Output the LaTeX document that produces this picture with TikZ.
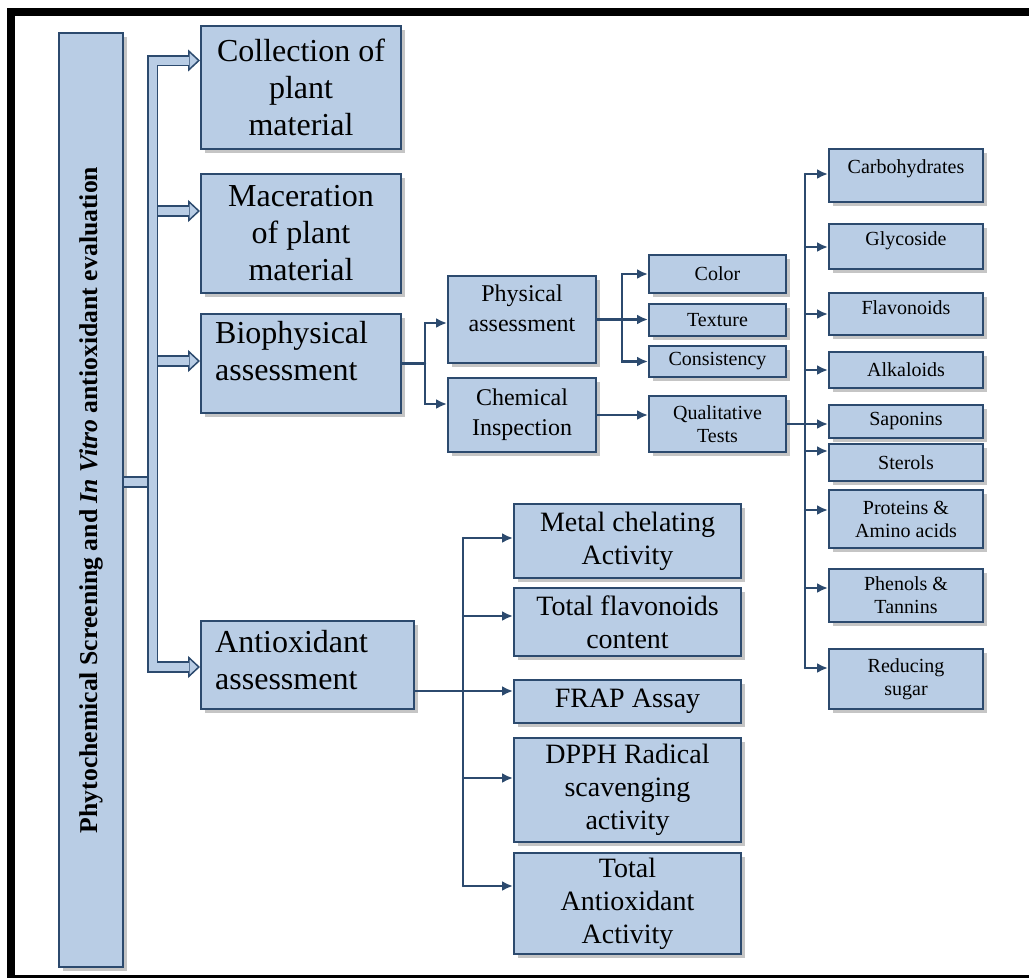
\documentclass[tikz,border=0pt]{standalone}
\usepackage{fontspec}
\setmainfont{Liberation Serif}
\definecolor{ScreenFill}{HTML}{B9CDE5}
\definecolor{ScreenEdge}{HTML}{2C4A6E}
\usetikzlibrary{arrows.meta,positioning,shadows}

\begin{document}
\begin{tikzpicture}[
    x=1pt, y=-1pt,
    bigfont/.style={font=\fontsize{32}{37}\selectfont},
    midfont/.style={font=\fontsize{24}{30}\selectfont},
    smallfont/.style={font=\fontsize{20}{23}\selectfont},
    assayfont/.style={font=\fontsize{28}{33}\selectfont},
    box/.style={
      draw=ScreenEdge,
      line width=2pt,
      fill=ScreenFill,
      align=center,
      inner sep=2pt,
      anchor=north west,
      drop shadow={shadow xshift=4pt, shadow yshift=-4pt, fill=black!45}
    },
    big/.style={box, bigfont, minimum width=200pt},
    mid/.style={box, midfont, minimum width=148pt},
    small/.style={box, smallfont, minimum width=137pt},
    test/.style={box, smallfont, minimum width=154pt},
    assay/.style={box, assayfont, minimum width=227pt},
    tag/.style={inner sep=0pt, align=left},
    link/.style={draw=ScreenEdge, line width=2.4pt, line cap=round},
    arr/.style={link, -{Latex[length=11pt,width=10pt]}},
    dbl/.style={draw=ScreenEdge, line width=1.8pt, double=ScreenFill, double distance=8pt},
    head/.style={draw=ScreenEdge, line width=1.5pt, -{Triangle[length=12pt,width=22pt,fill=ScreenFill]}}
  ]
  \useasboundingbox (0,0) rectangle (1029,978);
  \fill[white] (0,0) rectangle (1029,978);

  % title column
  \node[box, anchor=center, minimum width=64pt, minimum height=934pt,
    font=\bfseries\fontsize{25.7}{30}\selectfont] (title) at (91,500)
    {\rotatebox{90}{Phytochemical Screening and \textit{In Vitro} antioxidant evaluation}};

  % first level
  \node[big, minimum height=123pt] (coll) at (200,25) {Collection of\\plant\\material};
  \node[big, minimum height=119pt] (mac) at (200,173) {Maceration\\of plant\\material};
  \node[big, minimum height=99pt] (bio) at (200,313) {};
  \node[tag, bigfont, below right=8pt and 15pt of bio.north west] {Biophysical\\assessment};
  \node[big, minimum width=213pt, minimum height=88pt] (anti) at (200,620) {};
  \node[tag, bigfont, below right=10pt and 15pt of anti.north west] {Antioxidant\\assessment};

  % biophysical branch
  \node[mid, minimum height=87pt] (phys) at (447,275) {};
  \node[tag, midfont, align=center, below=10pt of phys.north] {Physical\\assessment};
  \node[mid, minimum height=74pt] (chem) at (447,377) {Chemical\\Inspection};

  \node[small, minimum height=38pt] (col) at (648,254) {Color};
  \node[small, minimum height=32pt] (tex) at (648,303) {Texture};
  \node[small, minimum height=31pt] (con) at (648,345) {Consistency};
  \node[small, minimum height=56pt] (qual) at (648,395) {Qualitative\\Tests};

  % qualitative tests
  \foreach \n/\y/\h/\d/\t in {carb/148/53/11/Carbohydrates, glyc/223/45/8/Glycoside,
      flav/292/42/8/Flavonoids} {
    \node[test, minimum height=\h pt] (\n) at (828,\y) {};
    \node[tag, smallfont, below=\d pt of \n.north] {\t};
  }
  \foreach \n/\y/\h/\t in {alka/351/36/Alkaloids, sapo/404/33/Saponins, ster/443/37/Sterols,
      prot/489/58/{Proteins \&\\Amino acids}, phen/568/53/{Phenols \&\\Tannins},
      redu/648/60/{Reducing\\sugar}}
    \node[test, minimum height=\h pt] (\n) at (828,\y) {\t};

  % antioxidant assays
  \node[assay, minimum height=74pt] (metal) at (513,503) {Metal chelating\\Activity};
  \node[assay, minimum height=68pt] (tflav) at (513,587) {Total flavonoids\\content};
  \node[assay, minimum height=43pt] (frap) at (513,679) {FRAP Assay};
  \node[assay, minimum height=104pt] (dpph) at (513,737) {DPPH Radical\\scavenging\\activity};
  \node[assay, minimum height=101pt] (tant) at (513,852) {Total\\Antioxidant\\Activity};

  % hollow connectors from the title
  \coordinate (tk) at (152.5,59.5);
  \foreach \n/\s in {coll/27, mac/22.5, bio/2.5, anti/-2} {
    \path ([yshift=\s pt]\n.west) coordinate (h\n);
    \draw[head] ([xshift=-13pt]h\n) -- (h\n);
  }
  \foreach \n in {mac, bio}
    \draw[dbl] (h\n -| tk) -- ([xshift=-11pt]h\n);
  \path ([yshift=18pt]title.east) coordinate (tt);
  \draw[dbl] (tt) -- (tt -| tk);
  \draw[dbl] ([xshift=-11pt]hcoll) -| (hanti -| tk) -- ([xshift=-11pt]hanti);

  % biophysical connectors
  \path (bio.east) ++(23,0) coordinate (j1);
  \draw[link] (bio.east) -- (j1);
  \draw[arr] (j1) |- ([yshift=-3.5pt]phys.west);
  \draw[arr] (j1) |- ([yshift=11pt]chem.west);

  \path (phys.east) ++(25,0) coordinate (j2);
  \draw[arr] (phys.east) -- (j2 -| tex.west);
  \draw[arr] (j2) |- (col.west);
  \draw[arr] (j2) |- (con.west);
  \draw[arr] (chem.east) -- (chem.east -| qual.west);

  \path (qual.east) ++(18,0) coordinate (qt);
  \draw[arr] (qual.east) -- (qual.east -| sapo.west);
  \foreach \n/\s in {carb/1.5, glyc/-0.5, flav/0, alka/0, ster/11.5, prot/9, phen/7.5, redu/11} {
    \path ([yshift=\s pt]\n.west) coordinate (e\n);
    \draw[arr] (e\n -| qt) -- (e\n);
  }
  \draw[link] (ecarb -| qt) -- (eredu -| qt);

  % antioxidant connectors
  \path ([yshift=-26pt]anti.east) coordinate (ea);
  \path (ea) ++(48,0) coordinate (aj);
  \draw[arr] (ea) -- (ea -| frap.west);
  \foreach \n/\s in {metal/3, tflav/6, dpph/12, tant/17.5} {
    \path ([yshift=\s pt]\n.west) coordinate (e\n);
    \draw[arr] (e\n -| aj) -- (e\n);
  }
  \draw[link] (emetal -| aj) -- (etant -| aj);

  % outer frame
  \draw[line width=8pt] (11,12) rectangle (1045,979);
\end{tikzpicture}
\end{document}
